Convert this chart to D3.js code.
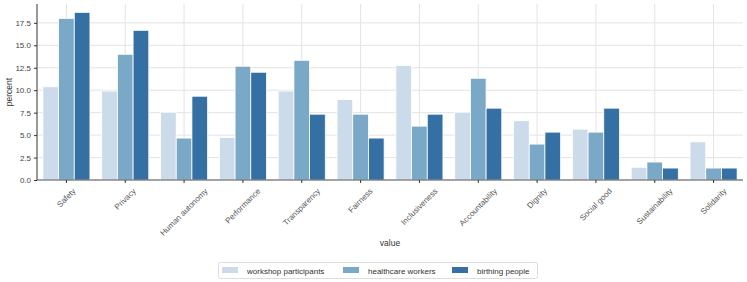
<!DOCTYPE html>
<html><head><meta charset="utf-8">
<script src="https://cdn.jsdelivr.net/npm/d3@7"></script>
<style>body{margin:0;background:#fff;} text{font-family:"Liberation Sans",Arial,sans-serif;}</style>
</head><body><svg id="c" width="747" height="282"></svg>
<script>
const categories = ["Safety","Privacy","Human autonomy","Performance","Transparency","Fairness","Inclusiveness","Accountability","Dignity","Social good","Sustainability","Solidarity"];
const seriesNames = ["workshop participants","healthcare workers","birthing people"];
const workshop = [10.38,9.91,7.55,4.72,9.91,8.96,12.74,7.55,6.6,5.66,1.42,4.25];
const healthcare = [18.0,14.0,4.67,12.67,13.33,7.33,6.0,11.33,4.0,5.33,2.0,1.33];
const birthing = [18.67,16.67,9.33,12.0,7.33,4.67,7.33,8.0,5.33,8.0,1.33,1.33];
const yTicks = [0,2.5,5,7.5,10,12.5,15,17.5];
const colors = ["#cbdbea","#7aa9c8","#3470a3"];

const series = [workshop, healthcare, birthing];
const svg = d3.select("#c");
const m = {l:37, r:743, t:4, b:180};
const x = d3.scaleBand().domain(categories).range([m.l, m.r]).paddingInner(0).paddingOuter(0);
const y = d3.scaleLinear().domain([0,19.6]).range([m.b, m.t]);

// grid
const g = svg.append("g");
g.selectAll(".gy").data(yTicks).join("line").attr("x1",m.l).attr("x2",m.r)
 .attr("y1",d=>y(d)).attr("y2",d=>y(d)).attr("stroke","#e3e3e3").attr("stroke-width",1);
g.selectAll(".gx").data(categories).join("line").attr("y1",m.t).attr("y2",m.b)
 .attr("x1",d=>x(d)+x.bandwidth()/2).attr("x2",d=>x(d)+x.bandwidth()/2).attr("stroke","#e3e3e3").attr("stroke-width",1);

// bars
const bw = x.bandwidth()*0.8/3;
series.forEach((s,i)=>{
  svg.append("g").selectAll("rect").data(s).join("rect")
   .attr("x",(d,j)=>x(categories[j]) + x.bandwidth()*0.1 + i*bw)
   .attr("width",bw).attr("y",d=>y(d)).attr("height",d=>y(0)-y(d))
   .attr("fill",colors[i]).attr("stroke","#fff").attr("stroke-width",0.8);
});

// axes
const ya = svg.append("g").attr("transform",`translate(${m.l},0)`)
 .call(d3.axisLeft(y).tickValues(yTicks).tickFormat(d3.format(".1f")).tickSize(3).tickPadding(3));
ya.select(".domain").attr("stroke","#333").attr("d",`M0,${m.t}V${m.b}`);
ya.selectAll(".tick line").attr("stroke","#333");
ya.selectAll("text").attr("font-size",8).attr("fill","#444");

const xa = svg.append("g").attr("transform",`translate(0,${m.b})`)
 .call(d3.axisBottom(x).tickSize(3).tickSizeOuter(0));
xa.select(".domain").attr("stroke","#555").attr("d",`M${m.l},0H${m.r}`).attr("stroke-width",1.2);
xa.selectAll(".tick line").attr("stroke","#333");
xa.selectAll("text").attr("font-size",8).attr("fill","#555")
 .attr("text-anchor","middle").attr("dy",null).attr("y",0).attr("dominant-baseline","central")
 .attr("transform",function(){
   const L = this.getComputedTextLength();
   const cy = 7 + (L + 8) * 0.3536;
   return `translate(0,${cy}) rotate(-45)`;
 });

svg.append("text").attr("x",(m.l+m.r)/2).attr("y",246).attr("text-anchor","middle")
 .attr("font-size",8.5).attr("fill","#333").text("value");
svg.append("text").attr("transform",`translate(12,${(m.t+m.b)/2}) rotate(-90)`).attr("text-anchor","middle")
 .attr("font-size",8.5).attr("fill","#333").text("percent");

// legend
const lg = svg.append("g");
lg.append("rect").attr("x",218.5).attr("y",262.5).attr("width",319).attr("height",16)
 .attr("fill","#fff").attr("stroke","#ddd").attr("rx",2);
const lx = [222,343,452];
seriesNames.forEach((n,i)=>{
  lg.append("rect").attr("x",lx[i]).attr("y",267).attr("width",16).attr("height",6).attr("fill",colors[i]);
  lg.append("text").attr("x",lx[i]+25).attr("y",273.5).attr("font-size",8).attr("fill","#333").text(n);
});
</script></body></html>
